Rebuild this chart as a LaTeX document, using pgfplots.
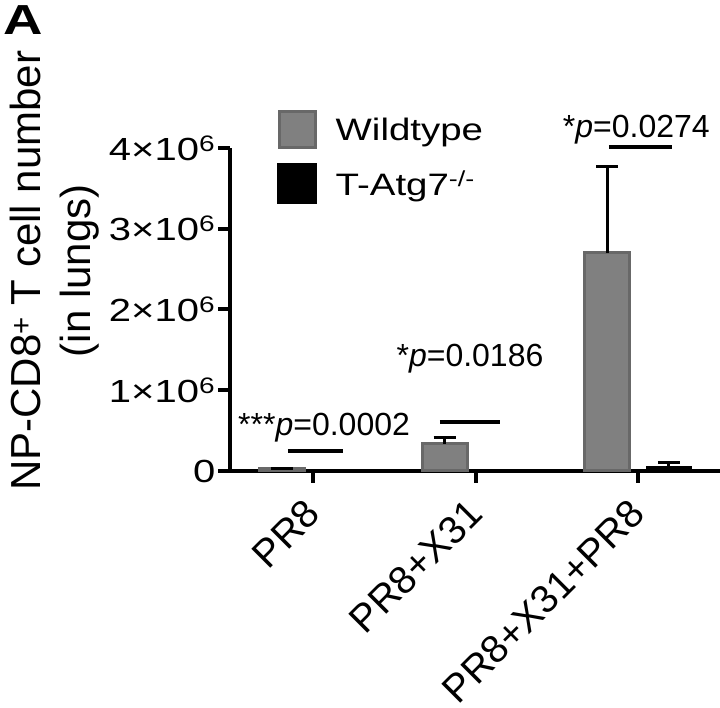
\documentclass[border=0pt]{standalone}
\usepackage{fontspec}
\setmainfont{Liberation Sans}
\usepackage{graphicx}
\usepackage{pgfplots}
\pgfplotsset{compat=1.18}

\definecolor{wtfill}{HTML}{808080}
\definecolor{wtedge}{HTML}{686868}
\newcommand{\wide}[1]{\scalebox{1.24}[1]{#1}}

\begin{document}
\begin{tikzpicture}
\begin{axis}[
    scale only axis,
    width=490pt, height=323pt,
    xmin=-0.5108, xmax=2.5046,
    ymin=0, ymax=4e6,
    clip=false,
    scaled y ticks=false,
    axis x line*=bottom, axis y line*=left,
    axis line style={line width=4pt, black},
    ybar, bar width=0.277,
    xtick={0,1,2},
    xticklabels={PR8, PR8+X31, PR8+X31+PR8},
    ytick={0,1e6,2e6,3e6,4e6},
    yticklabels={0, 1×10\textsuperscript{6}, 2×10\textsuperscript{6}, 3×10\textsuperscript{6}, 4×10\textsuperscript{6}},
    tick align=outside,
    major tick length=12pt,
    tick style={line width=4pt, black},
    x tick label style={xshift=-10pt, yshift=-14pt, rotate=45, anchor=north east, font=\fontsize{39}{39}\selectfont, inner sep=0pt},
    y tick label style={xscale=1.25, font=\fontsize{32}{32}\selectfont, inner sep=2pt},
    ylabel={NP-CD8\textsuperscript{+} T cell number\\(in lungs)},
    every axis y label/.style={at={(axis description cs:-0.357,0.62)}, rotate=90, anchor=center},
    ylabel style={align=center, font=\fontsize{42}{50}\selectfont},
    legend style={at={(rel axis cs:0.0959,1.1176)}, anchor=north west, draw=none, fill=none,
        font=\fontsize{31}{31}\selectfont, row sep=14pt, inner sep=0pt,
        nodes={inner sep=0pt}},
    legend cell align=left,
    error bars/y dir=plus, error bars/y explicit,
    error bars/error mark=-,
    error bars/error bar style={line width=3pt, black},
    error bars/error mark options={line width=3pt, black, mark size=11pt, rotate=90},
]
% Wildtype
\addplot[fill=wtfill, draw=wtedge, line width=3pt, bar shift=-0.19,
    legend image code/.code={\draw[fill=wtfill, draw=wtedge, line width=3pt] (1.5pt,-18pt) rectangle (37.5pt,18pt); \path[draw=none, fill=none] (0pt,0pt) -- (58pt,0pt);}]
    coordinates {(0,0.025e6) +- (0,0.005e6) (1,0.34e6) +- (0,0.075e6) (2,2.70e6) +- (0,1.07e6)};
% T-Atg7-/-
\addplot[fill=black, draw=black, line width=1pt, bar shift=0.19,
    legend image code/.code={\draw[fill=black, draw=black, line width=1pt] (0pt,-20pt) rectangle (39pt,20pt); \path[draw=none, fill=none] (0pt,0pt) -- (58pt,0pt);}]
    coordinates {(0,0.002e6) +- (0,0) (1,0.008e6) +- (0,0) (2,0.06e6) +- (0,0.04e6)};
\legend{\wide{Wildtype}, \wide{T-Atg7\textsuperscript{-/-}}}

% significance annotations
\draw[line width=4pt] (axis cs:-0.154,0.246e6) -- (axis cs:0.185,0.246e6);
\draw[line width=4pt] (axis cs:0.78,0.603e6) -- (axis cs:1.15,0.603e6);
\draw[line width=4pt] (axis cs:1.82,4.01e6) -- (axis cs:2.21,4.01e6);
\node[font=\fontsize{32}{32}\selectfont, anchor=base, inner sep=0pt] at (axis cs:0.068,0.443e6) {***\textit{p}=0.0002};
\node[font=\fontsize{32}{32}\selectfont, anchor=base, inner sep=0pt] at (axis cs:0.966,1.30e6) {*\textit{p}=0.0186};
\node[font=\fontsize{32}{32}\selectfont, anchor=base, inner sep=0pt] at (axis cs:1.99,4.135e6) {*\textit{p}=0.0274};
\node[anchor=north west, xscale=1.3, font=\bfseries\fontsize{42}{42}\selectfont, inner sep=0pt] at (rel axis cs:-0.463,1.443) {A};

\coordinate (bl) at (rel axis cs:-0.4694,-0.7337);
\coordinate (tr) at (rel axis cs:1,1.4582);
\end{axis}
\pgfresetboundingbox
\useasboundingbox (bl) rectangle (tr);
\end{tikzpicture}
\end{document}
